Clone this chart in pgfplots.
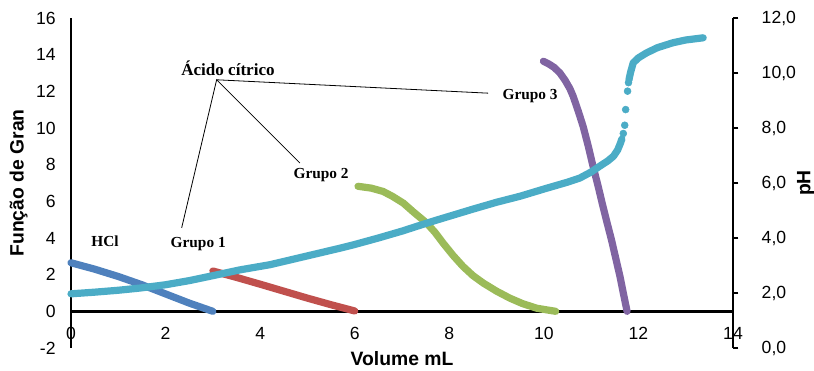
\documentclass[border=0pt]{standalone}
\usepackage{fontspec}
\setmainfont{Liberation Sans}
\newfontfamily\timesf{Liberation Serif}
\usepackage{pgfplots}
\pgfplotsset{compat=1.18}
\definecolor{hclc}{HTML}{4F81BD}
\definecolor{g1c}{HTML}{C0504D}
\definecolor{g2c}{HTML}{9BBB59}
\definecolor{g3c}{HTML}{8064A2}
\definecolor{phc}{HTML}{4BACC6}
\begin{document}
\begin{tikzpicture}
\useasboundingbox (0,0) rectangle (610.5pt,278.25pt);
\begin{axis}[
  at={(53.25pt,17.25pt)}, anchor=south west,
  scale only axis, width=496.5pt, height=247.5pt,
  xmin=0, xmax=14, ymin=-2, ymax=16,
  axis x line=middle, axis y line=left,
  axis line style={line width=2.2pt,-},
  xtick={0,2,...,14}, ytick={-2,0,...,16},
  major tick length=0pt,
  hide obscured x ticks=false, hide obscured y ticks=false,
  tick label style={font=\fontsize{13.2}{15}\selectfont},
  /pgf/number format/assume math mode=true,
  xticklabel style={yshift=-8.5pt},
  yticklabel style={xshift=-8pt},
  xlabel={Volume mL}, ylabel={Função de Gran},
  label style={font=\bfseries\fontsize{14.5}{16}\selectfont},
  xlabel style={at={(axis description cs:0.5,-0.0333)},anchor=center},
  ylabel style={at={(axis description cs:-0.0793,0.5)},anchor=center},
  clip=false,
  every axis plot/.append style={line width=5.4pt, line cap=round, line join=round, no markers},
]
\addplot[hclc] coordinates {(0,2.65)(0.5,2.3)(1.0,1.9)(1.5,1.45)(2.0,0.95)(2.5,0.45)(3.0,0.0)};
\addplot[g1c] coordinates {(3.0,2.2)(3.5,1.85)(4,1.48)(4.5,1.1)(5,0.72)(5.5,0.36)(6.0,0.02)};
\addplot[g2c] coordinates {(6.07,6.82)(6.35,6.72)(6.6,6.54)(6.8,6.27)(7.03,5.9)(7.25,5.4)(7.52,4.82)(7.7,4.3)(7.87,3.72)(8.08,3.05)(8.29,2.45)(8.5,1.95)(8.72,1.54)(9.0,1.1)(9.28,0.72)(9.55,0.42)(9.85,0.17)(10.25,0)};
\addplot[g3c] coordinates {(9.99,13.64)(10.1,13.5)(10.22,13.3)(10.34,13.0)(10.45,12.6)(10.55,12.15)(10.62,11.73)(10.73,10.9)(10.83,10.09)(10.94,9.0)(11.04,7.91)(11.15,6.8)(11.25,5.72)(11.34,4.8)(11.43,3.9)(11.52,2.9)(11.61,1.9)(11.68,1.0)(11.76,0)};
\node[font=\timesf\bfseries\fontsize{12.8}{14}\selectfont] at (axis cs:3.32,13.28) {Ácido cítrico};
\begin{scope}[font=\timesf\bfseries\fontsize{11.5}{13}\selectfont]
\node at (axis cs:0.72,3.84) {HCl};
\node at (axis cs:2.69,3.67) {Grupo 1};
\node at (axis cs:5.29,7.44) {Grupo 2};
\node at (axis cs:9.71,11.75) {Grupo 3};
\end{scope}
\draw[line width=0.6pt] (axis cs:2.34,4.55) -- (axis cs:3.08,12.63) -- (axis cs:4.84,8.09);
\draw[line width=0.6pt] (axis cs:3.08,12.63) -- (axis cs:8.82,11.9);
\end{axis}
\begin{axis}[
  at={(53.25pt,17.25pt)}, anchor=south west,
  scale only axis, width=496.5pt, height=247.5pt,
  xmin=0, xmax=14, ymin=0, ymax=12,
  axis x line=none, axis y line=right,
  axis line style={line width=2.2pt,-},
  ytick={0,2,...,12},
  tick align=outside, major tick length=4pt,
  every tick/.style={line width=2pt, black},
  tick label style={font=\fontsize{13.2}{15}\selectfont},
  /pgf/number format/.cd, assume math mode=true, fixed, fixed zerofill, precision=1, use comma, /pgfplots/.cd,
  yticklabel style={xshift=14pt},
  ylabel={pH},
  ylabel style={font=\bfseries\fontsize{14.5}{16}\selectfont, at={(axis description cs:1.110,0.5)}, anchor=center},
  clip=false,
]
\addplot[phc, line width=5.4pt, line cap=round, line join=round, no markers] coordinates {(0,1.97)(0.5,2.03)(1.0,2.1)(1.46,2.18)(2,2.3)(2.5,2.45)(3,2.63)(3.57,2.84)(4.21,3.03)(5,3.35)(5.69,3.63)(5.97,3.75)(6.5,4.0)(7,4.25)(7.45,4.5)(7.73,4.65)(8.5,5.05)(9,5.3)(9.5,5.52)(10.0,5.78)(10.5,6.03)(10.76,6.18)(11.0,6.4)(11.18,6.61)(11.35,6.8)(11.47,6.97)(11.56,7.2)(11.62,7.45)(11.65,7.6)};
\addplot[phc, only marks, mark=*, mark size=2.6pt] coordinates {(11.68,7.8)(11.71,8.1)(11.73,8.67)(11.77,9.34)(11.79,9.65)};
\addplot[phc, line width=5.4pt, line cap=round, line join=round, no markers] coordinates {(11.8,9.75)(11.83,10.0)(11.89,10.37)(12.0,10.55)(12.17,10.73)(12.4,10.92)(12.73,11.1)(13.0,11.2)(13.37,11.28)};
\end{axis}
\end{tikzpicture}
\end{document}
